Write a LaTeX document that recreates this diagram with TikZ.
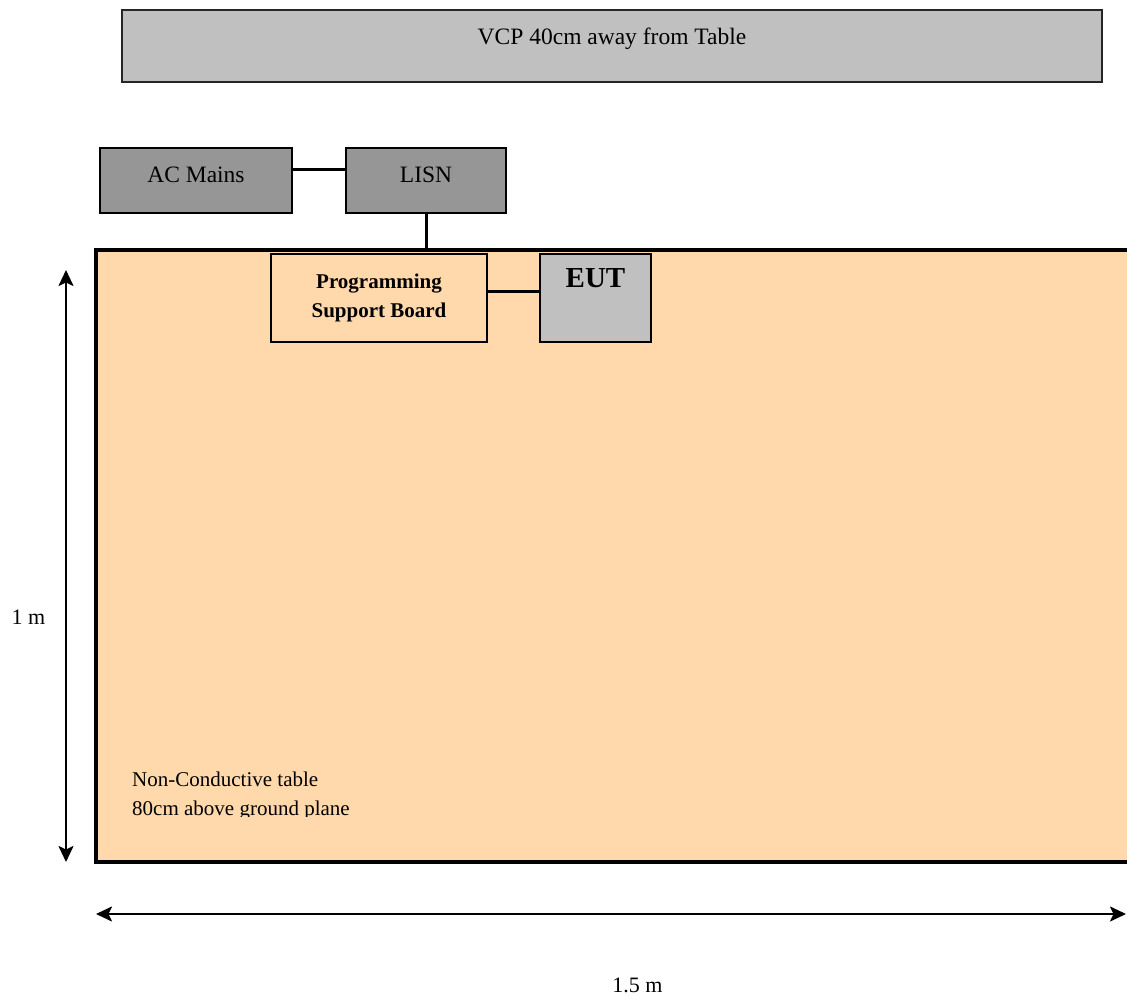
\documentclass[tikz,border=0pt]{standalone}
\usepackage{fontspec}
\setmainfont{Liberation Serif}
\usetikzlibrary{arrows.meta,calc}
\definecolor{vcpgray}{HTML}{C0C0C0}
\definecolor{boxgray}{HTML}{969696}
\definecolor{peach}{HTML}{FFD8AC}
\begin{document}
\begin{tikzpicture}[x=1pt,y=1pt,
  box/.style={rectangle, inner sep=0pt, outer sep=0pt, line width=2.5pt, draw=black},
  wire/.style={line width=3pt, draw=black},
  dimarrow/.style={line width=2.2pt, {Stealth[length=16pt,width=15pt,inset=3.5pt]}-{Stealth[length=16pt,width=15pt,inset=3.5pt]}},
  lbl/.style={font=\fontsize{23.5}{28}\selectfont},
  dimlbl/.style={font=\fontsize{22}{26}\selectfont, anchor=base, inner sep=0pt},
  tbltext/.style={font=\fontsize{21}{25}\selectfont, anchor=base west, inner sep=0pt}]
\useasboundingbox (0,0) rectangle (1127,997);

% VCP
\node[box, draw=black!85, line width=2pt, fill=vcpgray, minimum width=980pt, minimum height=72pt,
      lbl, text height=16pt, text depth=18pt] (vcp) at (612,951) {VCP 40cm away from Table};

% AC Mains and LISN
\node[box, fill=boxgray, minimum width=192pt, minimum height=65pt, lbl, text height=16pt, text depth=11pt]
  (ac) at (196,816.5) {AC Mains};
\node[box, fill=boxgray, minimum width=160pt, minimum height=65pt, lbl, text height=16pt, text depth=11pt]
  (lisn) at (426,816.5) {LISN};
\draw[wire] ([yshift=11pt]ac.east) -- ([yshift=11pt]lisn.west);

% Table
\node[rectangle, inner sep=0pt, outer sep=0pt, fill=peach, minimum width=1033pt, minimum height=612pt]
  (table) at (612.5,441) {};
\draw[line width=4pt] (table.north east) -- (table.north west) -- (table.south west) -- (table.south east);
\draw[wire] (lisn.south) -- (lisn.south |- table.north);

% Programming Support Board and EUT
\node[box, fill=peach, minimum width=216pt, minimum height=88pt, align=center,
      font=\bfseries\fontsize{21}{29}\selectfont] (psb) at (379,699) {Programming\\Support Board};
\node[box, fill=vcpgray, minimum width=111pt, minimum height=88pt,
      font=\bfseries\fontsize{29}{34}\selectfont, text height=20pt, text depth=40pt] (eut) at (595.5,699) {EUT};
\draw[wire] ([yshift=6pt]psb.east) -- ([yshift=6pt]eut.west);

% Table text (clipped at the bottom as in the picture)
\begin{scope}
  \clip (100,181) rectangle (700,240);
  \node[tbltext] (tbl1) at (132,211) {Non-Conductive table};
  \node[tbltext] (tbl2) at (132,182) {80cm above ground plane};
\end{scope}

% Dimension arrows
\coordinate (vtop) at (66,727);
\coordinate (vbot) at (66,135);
\draw[dimarrow] (vbot) -- (vtop);
\node[dimlbl] (onem) at (28.5,372) {1 m};

\coordinate (hleft) at (96,83);
\coordinate (hright) at (1126,83);
\draw[dimarrow] (hleft) -- (hright);
\node[dimlbl] (onefivem) at (637.5,5) {1.5 m};
\end{tikzpicture}
\end{document}
